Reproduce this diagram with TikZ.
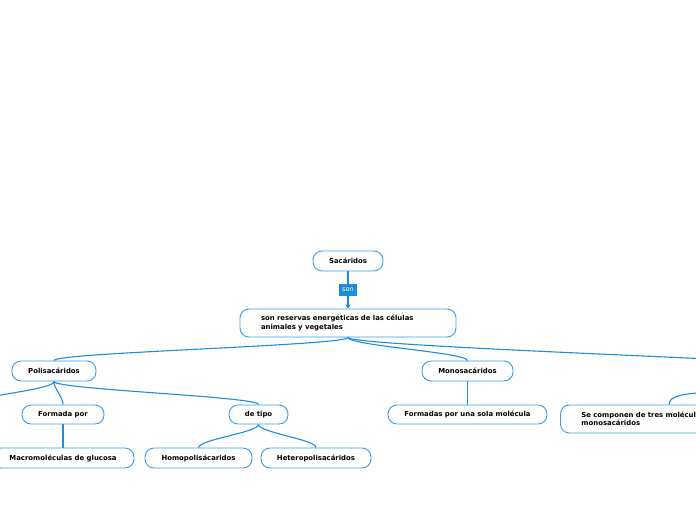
\documentclass[tikz,border=0pt]{standalone}
\usepackage{fontspec}
\setmainfont{DejaVu Sans}
\usetikzlibrary{arrows.meta}
\definecolor{lnk}{RGB}{28,140,220}
\definecolor{bd}{RGB}{60,158,225}
\tikzset{
 box/.style={draw=bd, line width=0.9pt, fill=white, rounded corners=9pt,
   font=\fontsize{6.9}{8.2}\selectfont\bfseries, text=black, inner sep=0pt, minimum height=20pt},
 conn/.style={draw=lnk, line width=1.1pt},
 tag/.style={fill=lnk, text=white, font=\fontsize{6.6}{7}\selectfont, inner sep=0pt,
   minimum width=18pt, minimum height=12pt}
}
\newcommand{\branch}[2]{\draw[conn] (#1.south) .. controls +(0,8) and +(0,-8) .. (#2.north);}
\begin{document}
\begin{tikzpicture}[x=1pt,y=-1pt]
\useasboundingbox (0,0) rectangle (696,520);
% nodes
\node[box, minimum width=70pt] (sac) at (348,261) {Sacáridos};
\node[box, minimum width=216pt, minimum height=28pt, text width=174pt, align=left] (res) at (348,323)
  {son reservas energéticas de las células\\animales y vegetales};
\node[tag] (son) at (348,290) {son};
\node[box, minimum width=84pt] (poli) at (54,371) {Polisacáridos};
\node[box, minimum width=91pt] (mono) at (467.5,371) {Monosacáridos};
\node[box, minimum width=82pt, minimum height=19pt] (form) at (63,414.5) {Formada por};
\node[box, minimum width=59pt, minimum height=19pt] (tipo) at (258.5,414.5) {de tipo};
\node[box, minimum width=142pt] (macro) at (63,458) {Macromoléculas de glucosa};
\node[box, minimum width=107pt] (homo) at (198.5,458) {Homopolisácaridos};
\node[box, minimum width=110pt] (hetero) at (316,458) {Heteropolisacáridos};
\node[box, minimum width=159pt, minimum height=19pt] (sola) at (467.5,414.5) {Formadas por una sola molécula};
\node[box, minimum width=200pt, minimum height=28pt, text width=158pt, align=left, anchor=west] (tres) at (560,419)
  {Se componen de tres moléculas de\\monosacáridos};
% off-canvas attachment points
\coordinate (offR) at (760,362);
\coordinate (offRtop) at (730,392);
\coordinate (offL) at (-45,405);
% connectors
\draw[conn] (sac.south) -- (son.north);
\draw[conn, -{Triangle[length=4pt,width=5pt]}] (son.south) -- (res.north);
\branch{res}{poli}
\branch{res}{mono}
\draw[conn] (res.south) .. controls +(0,8) and +(-40,-4) .. (offR);
\branch{poli}{form}
\branch{poli}{tipo}
\draw[conn] (poli.south) .. controls +(0,8) and +(30,-10) .. (offL);
\draw[conn] (form.south) -- (macro.north);
\branch{tipo}{homo}
\branch{tipo}{hetero}
\draw[conn] (mono.south) -- (sola.north);
\draw[conn] (offRtop) .. controls +(-50,0) and +(0,-8) .. ([xshift=109pt]tres.north west);
\end{tikzpicture}
\end{document}
